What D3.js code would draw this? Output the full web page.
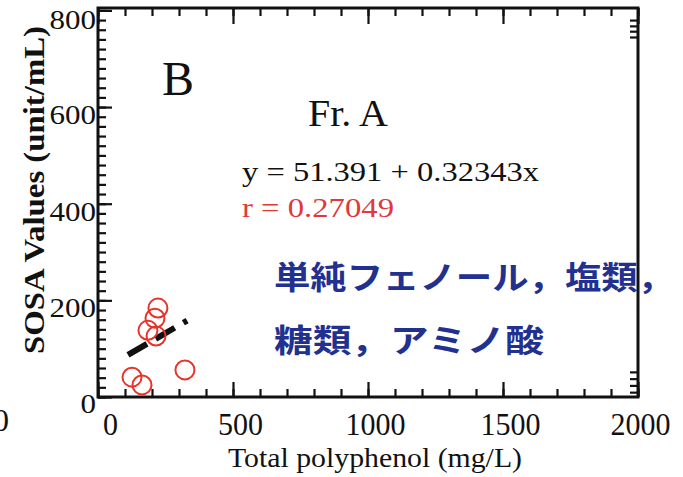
<!DOCTYPE html>
<html>
<head>
<meta charset="utf-8">
<script src="https://cdn.jsdelivr.net/npm/d3@7"></script>
<style>
  body { margin: 0; background: #fff; }
  svg { display: block; }
  .serif { font-family: "Liberation Serif", "DejaVu Serif", serif; }
</style>
</head>
<body>
<svg width="683" height="477"></svg>
<script>
// values
const xTicks = [0, 500, 1000, 1500, 2000];
const yTicks = [0, 200, 400, 600, 800];
const polyphenol = [126, 163, 222, 211, 185, 215, 322];
const sosa = [41, 25, 184, 163, 138, 126, 56];
const fitRange = [111, 330];
const intercept = 51.391, slope = 0.32343;
const rightTicks = [745, 757, 768, 780, 10, 24, 38, 52];

const svg = d3.select("svg");

const x = d3.scaleLinear().domain([0, 2000]).range([98, 638]);
const y = d3.scaleLinear().domain([0, 805]).range([397, 8]);

function clean(g) {
  g.select(".domain").remove();
  g.selectAll("line").attr("stroke", "#111").attr("stroke-width", 2.2);
}

// bottom / top ticks (pointing inward)
svg.append("g").attr("transform", "translate(0,397)")
    .call(d3.axisBottom(x).tickValues(d3.range(0, 2001, 100)).tickSize(-8).tickFormat(""))
    .call(clean);
svg.append("g").attr("transform", "translate(0,397)")
    .call(d3.axisBottom(x).tickValues(xTicks).tickSize(-15).tickFormat(""))
    .call(clean);
svg.append("g").attr("transform", "translate(0,8)")
    .call(d3.axisTop(x).tickValues(d3.range(0, 2001, 100)).tickSize(-8).tickFormat(""))
    .call(clean);
svg.append("g").attr("transform", "translate(0,8)")
    .call(d3.axisTop(x).tickValues(xTicks).tickSize(-16).tickFormat(""))
    .call(clean);

// left ticks
svg.append("g").attr("transform", "translate(98,0)")
    .call(d3.axisLeft(y).tickValues(d3.range(0, 801, 20)).tickSize(-8).tickFormat(""))
    .call(clean);
svg.append("g").attr("transform", "translate(98,0)")
    .call(d3.axisLeft(y).tickValues(yTicks).tickSize(-14).tickFormat(""))
    .call(clean);

// right ticks (only a few near the corners)
svg.append("g").attr("transform", "translate(638,0)")
    .call(d3.axisRight(y).tickValues(rightTicks).tickSize(-8).tickFormat(""))
    .call(clean);

// frame
svg.append("rect")
    .attr("x", x(0)).attr("y", y(805))
    .attr("width", x(2000) - x(0)).attr("height", y(0) - y(805))
    .attr("fill", "none").attr("stroke", "#111").attr("stroke-width", 3);

// tick labels
const xl = svg.append("g").attr("transform", "translate(0,397)")
    .call(d3.axisBottom(x).tickValues(xTicks).tickSize(0).tickFormat(d3.format("d")));
xl.select(".domain").remove();
xl.selectAll("text")
    .attr("class", "serif")
    .attr("font-size", 32).attr("fill", "#111")
    .attr("y", 27).attr("dy", "0.35em")
    .attr("x", d => d === 0 ? 12 : (d === 2000 ? 2 : 7))
    .attr("textLength", d => String(d).length * 15)
    .attr("lengthAdjust", "spacingAndGlyphs");

const yl = svg.append("g").attr("transform", "translate(98,0)")
    .call(d3.axisLeft(y).tickValues(yTicks).tickSize(0).tickFormat(d3.format("d")));
yl.select(".domain").remove();
yl.selectAll("text")
    .attr("class", "serif")
    .attr("font-size", 27).attr("fill", "#111")
    .attr("x", -2).attr("dy", "0.35em")
    .attr("y", d => d === 0 ? 6 : (d === 800 ? 9 : 7))
    .attr("textLength", d => String(d).length * 15.5)
    .attr("lengthAdjust", "spacingAndGlyphs");

// clipped label from neighbouring panel
svg.append("text").attr("class", "serif")
    .attr("x", 9).attr("y", 420).attr("dy", "0.35em")
    .attr("text-anchor", "end").attr("font-size", 32).attr("fill", "#111")
    .text("0");

// axis titles
svg.append("text").attr("class", "serif")
    .attr("x", 375).attr("y", 467)
    .attr("text-anchor", "middle").attr("font-size", 27).attr("fill", "#111")
    .attr("textLength", 294).attr("lengthAdjust", "spacingAndGlyphs")
    .text("Total polyphenol (mg/L)");

svg.append("text").attr("class", "serif")
    .attr("transform", "translate(44,190) rotate(-90)")
    .attr("text-anchor", "middle").attr("font-size", 29).attr("font-weight", "bold").attr("fill", "#111")
    .attr("textLength", 328).attr("lengthAdjust", "spacingAndGlyphs")
    .text("SOSA Values (unit/mL)");

// regression line
svg.append("line")
    .attr("x1", x(fitRange[0])).attr("y1", y(intercept + slope * fitRange[0]))
    .attr("x2", x(fitRange[1])).attr("y2", y(intercept + slope * fitRange[1]))
    .attr("stroke", "#111").attr("stroke-width", 6)
    .attr("stroke-dasharray", "22,10");

// points
svg.append("g").selectAll("circle")
    .data(polyphenol)
    .enter().append("circle")
    .attr("cx", d => x(d))
    .attr("cy", (d, i) => y(sosa[i]))
    .attr("r", 9.5)
    .attr("fill", "none").attr("stroke", "#e8332a").attr("stroke-width", 2);

// annotations
svg.append("text").attr("class", "serif")
    .attr("x", 162).attr("y", 95).attr("font-size", 48).attr("fill", "#111")
    .text("B");
svg.append("text").attr("class", "serif")
    .attr("x", 308).attr("y", 126).attr("font-size", 37).attr("fill", "#111")
    .attr("textLength", 80).attr("lengthAdjust", "spacingAndGlyphs")
    .text("Fr. A");
svg.append("text").attr("class", "serif")
    .attr("x", 242).attr("y", 181).attr("font-size", 28).attr("fill", "#111")
    .attr("textLength", 297).attr("lengthAdjust", "spacingAndGlyphs")
    .text("y = 51.391 + 0.32343x");
svg.append("text").attr("class", "serif")
    .attr("x", 242).attr("y", 217).attr("font-size", 28).attr("fill", "#e0393a")
    .attr("textLength", 152).attr("lengthAdjust", "spacingAndGlyphs")
    .text("r = 0.27049");

const jp = svg.append("g")
    .attr("font-family", "'Noto Sans CJK JP', sans-serif")
    .attr("font-weight", "bold").attr("font-size", 32).attr("fill", "#22318f");
jp.append("text").attr("x", 274).attr("y", 289)
    .attr("textLength", 400).attr("lengthAdjust", "spacingAndGlyphs")
    .text("単純フェノール，塩類，");
jp.append("text").attr("x", 274).attr("y", 352)
    .attr("textLength", 270).attr("lengthAdjust", "spacingAndGlyphs")
    .text("糖類，アミノ酸");
</script>
</body>
</html>
